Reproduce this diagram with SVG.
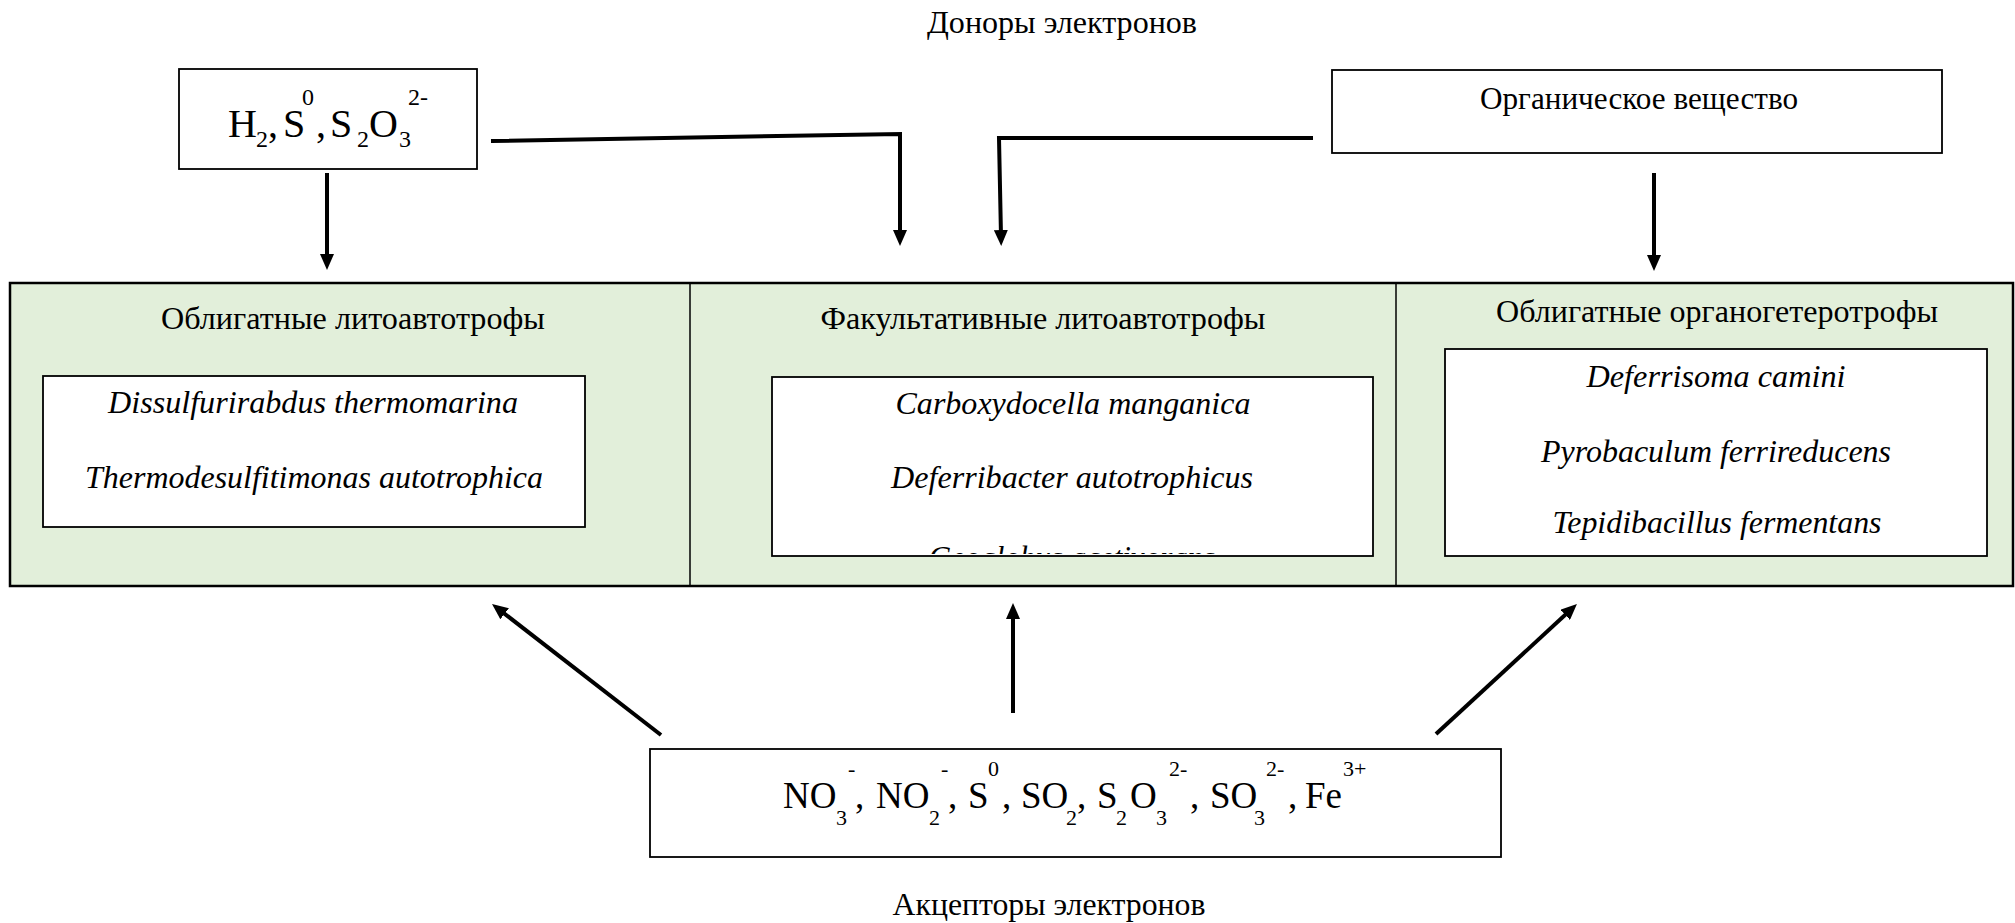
<svg xmlns="http://www.w3.org/2000/svg" width="2015" height="923" viewBox="0 0 2015 923">
  <style>
    .bg { fill: #ffffff; }
    .box { fill: #ffffff; stroke: #000000; stroke-width: 1.8; }
    .panel { fill: #e2efda; stroke: #000000; stroke-width: 2.5; }
    .divider { stroke: #000000; stroke-width: 1.5; fill: none; }
    .t { font-family: "Liberation Serif", "Times New Roman", serif; font-size: 31px; fill: #000000; }
    .c { text-anchor: middle; }
    .i { font-style: italic; }
    .f1 { font-family: "Liberation Serif", "Times New Roman", serif; font-size: 40px; fill: #000000; }
    .f1s { font-size: 24px; }
    .f2 { font-family: "Liberation Serif", "Times New Roman", serif; font-size: 37px; fill: #000000; }
    .f2s { font-size: 22px; }
    .conn { fill: none; stroke: #000000; stroke-width: 4; stroke-linejoin: miter; }
  </style>
  <defs>
    <marker id="head" markerUnits="userSpaceOnUse" markerWidth="16" markerHeight="14" refX="6" refY="7" orient="auto" viewBox="0 0 16 14">
      <path d="M0,0 L16,7 L0,14 z" fill="#000000"/>
    </marker>
    <clipPath id="midClip">
      <rect x="772" y="377" width="601" height="177"/>
    </clipPath>
  </defs>

  <rect class="bg" x="0" y="0" width="2015" height="923"/>

  <!-- donors heading -->
  <g id="donors-label">
    <text class="t c" x="1062" y="33" textLength="270" lengthAdjust="spacingAndGlyphs">Доноры электронов</text>
  </g>

  <!-- inorganic donors -->
  <g id="inorganic-donors">
    <rect class="box" x="179" y="69" width="298" height="100"/>
    <text class="f1">
      <tspan x="228" y="137">H</tspan><tspan class="f1s" x="256" y="147">2</tspan><tspan x="268" y="137">,</tspan>
      <tspan x="283" y="137">S</tspan><tspan class="f1s" x="302" y="105">0</tspan><tspan x="316" y="137">,</tspan>
      <tspan x="330" y="137">S</tspan><tspan class="f1s" x="357" y="147">2</tspan><tspan x="369" y="137">O</tspan><tspan class="f1s" x="399" y="147">3</tspan><tspan class="f1s" x="408" y="105">2-</tspan>
    </text>
  </g>

  <!-- organic donor -->
  <g id="organic-donor">
    <rect class="box" x="1332" y="70" width="610" height="83"/>
    <text class="t c" x="1639" y="109" textLength="318" lengthAdjust="spacingAndGlyphs">Органическое вещество</text>
  </g>

  <!-- organism groups panel -->
  <g id="groups-panel">
    <rect class="panel" x="10" y="283" width="2003" height="303"/>
    <line class="divider" x1="690" y1="283" x2="690" y2="586"/>
    <line class="divider" x1="1396" y1="283" x2="1396" y2="586"/>
  </g>

  <g id="obligate-lithoautotrophs">
    <text class="t c" x="353" y="329" textLength="384" lengthAdjust="spacingAndGlyphs">Облигатные литоавтотрофы</text>
    <rect class="box" x="43" y="376" width="542" height="151"/>
    <text class="t c i" x="313" y="413" textLength="410" lengthAdjust="spacingAndGlyphs">Dissulfurirabdus thermomarina</text>
    <text class="t c i" x="314" y="488" textLength="458" lengthAdjust="spacingAndGlyphs">Thermodesulfitimonas autotrophica</text>
  </g>

  <g id="facultative-lithoautotrophs">
    <text class="t c" x="1043" y="329" textLength="445" lengthAdjust="spacingAndGlyphs">Факультативные литоавтотрофы</text>
    <rect class="box" x="772" y="377" width="601" height="179"/>
    <text class="t c i" x="1073" y="414" textLength="355" lengthAdjust="spacingAndGlyphs">Carboxydocella manganica</text>
    <text class="t c i" x="1072" y="488" textLength="362" lengthAdjust="spacingAndGlyphs">Deferribacter autotrophicus</text>
    <!-- third entry overflows the box and is cut at its lower edge -->
    <text class="t c i" x="1072" y="568" clip-path="url(#midClip)">Geoglobus acetivorans</text>
  </g>

  <g id="obligate-organoheterotrophs">
    <text class="t c" x="1717" y="322" textLength="442" lengthAdjust="spacingAndGlyphs">Облигатные органогетеротрофы</text>
    <rect class="box" x="1445" y="349" width="542" height="207"/>
    <text class="t c i" x="1716" y="387" textLength="259" lengthAdjust="spacingAndGlyphs">Deferrisoma camini</text>
    <text class="t c i" x="1716" y="462" textLength="350" lengthAdjust="spacingAndGlyphs">Pyrobaculum ferrireducens</text>
    <text class="t c i" x="1717" y="533" textLength="329" lengthAdjust="spacingAndGlyphs">Tepidibacillus fermentans</text>
  </g>

  <!-- electron acceptors -->
  <g id="acceptors">
    <rect class="box" x="650" y="749" width="851" height="108"/>
    <text class="f2">
      <tspan x="783" y="808">NO</tspan><tspan class="f2s" x="836" y="825">3</tspan><tspan class="f2s" x="848" y="776">-</tspan><tspan x="855" y="808">,</tspan>
      <tspan x="876" y="808">NO</tspan><tspan class="f2s" x="929" y="825">2</tspan><tspan class="f2s" x="941" y="776">-</tspan><tspan x="948" y="808">,</tspan>
      <tspan x="968" y="808">S</tspan><tspan class="f2s" x="988" y="776">0</tspan><tspan x="1002" y="808">,</tspan>
      <tspan x="1021" y="808">SO</tspan><tspan class="f2s" x="1066" y="825">2</tspan><tspan x="1077" y="808">,</tspan>
      <tspan x="1097" y="808">S</tspan><tspan class="f2s" x="1116" y="825">2</tspan><tspan x="1130" y="808">O</tspan><tspan class="f2s" x="1156" y="825">3</tspan><tspan class="f2s" x="1169" y="776">2-</tspan><tspan x="1190" y="808">,</tspan>
      <tspan x="1210" y="808">SO</tspan><tspan class="f2s" x="1254" y="825">3</tspan><tspan class="f2s" x="1266" y="776">2-</tspan><tspan x="1288" y="808">,</tspan>
      <tspan x="1305" y="808">Fe</tspan><tspan class="f2s" x="1343" y="776">3+</tspan>
    </text>
  </g>

  <g id="acceptors-label">
    <text class="t c" x="1049" y="915" textLength="313" lengthAdjust="spacingAndGlyphs">Акцепторы электронов</text>
  </g>

  <!-- arrows -->
  <g id="connectors">
    <path class="conn" d="M327,173 L327,260" marker-end="url(#head)"/>
    <path class="conn" d="M491,141 L900,134 L900,236" marker-end="url(#head)"/>
    <path class="conn" d="M1313,138 L999,138 L1001,236" marker-end="url(#head)"/>
    <path class="conn" d="M1654,173 L1654,261" marker-end="url(#head)"/>
    <path class="conn" d="M661,735 L499.9,610.1" marker-end="url(#head)"/>
    <path class="conn" d="M1013,713 L1013,613" marker-end="url(#head)"/>
    <path class="conn" d="M1436,734 L1569.6,610.8" marker-end="url(#head)"/>
  </g>
</svg>
